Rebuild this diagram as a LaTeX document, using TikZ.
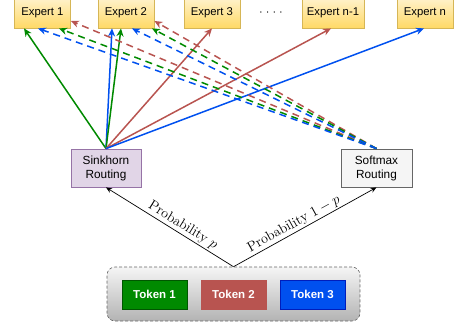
\documentclass[tikz,border=0pt]{standalone}
\usepackage{fontspec}
\newfontfamily\sfh{Liberation Sans}
\usetikzlibrary{arrows.meta,calc}

\definecolor{cgreen}{HTML}{008A00}
\definecolor{cgreenline}{HTML}{005700}
\definecolor{cred}{HTML}{B85450}
\definecolor{cblue}{HTML}{0050EF}
\definecolor{cblueline}{HTML}{001DBC}
\definecolor{expline}{HTML}{D6B656}
\definecolor{exptop}{HTML}{FFF2CC}
\definecolor{expbot}{HTML}{FFD966}
\definecolor{sinkfill}{HTML}{E1D5E7}
\definecolor{sinkline}{HTML}{9673A6}
\definecolor{softfill}{HTML}{F5F5F5}
\definecolor{greyline}{HTML}{666666}
\definecolor{boxbot}{HTML}{B3B3B3}

\tikzset{
  expert/.style={draw=expline, line width=0.8pt, top color=exptop, bottom color=expbot,
    minimum width=56pt, minimum height=30pt, inner sep=0pt,
    font=\sfh\fontsize{11.3}{13}\selectfont},
  router/.style={line width=0.8pt, minimum width=70pt, minimum height=38pt, inner sep=0pt,
    align=center, font=\sfh\fontsize{11.8}{14}\selectfont},
  token/.style={line width=0.8pt, minimum width=65pt, minimum height=29pt, inner sep=0pt,
    text=white, font=\sfh\bfseries\fontsize{11.5}{14}\selectfont},
  pick/.style={line width=1.5pt, -{Stealth[length=8pt,width=7pt,inset=2.5pt]}},
  spread/.style={pick, dash pattern=on 7pt off 5pt},
  route/.style={line width=0.7pt, black, -{Stealth[length=6pt,width=5pt,inset=2pt]}},
  problabel/.style={font=\fontsize{14}{16}\selectfont, inner sep=1.5pt},
}

\begin{document}
\begin{tikzpicture}[x=1pt,y=-1pt]
\useasboundingbox (0,0) rectangle (456,325);

% experts
\node[expert] (e1) at (42.5,13) {Expert 1};
\node[expert] (e2) at (126,13) {Expert 2};
\node[expert] (e3) at (212,13) {Expert 3};
\node[font=\sfh\fontsize{11}{13}\selectfont] (dots) at (271,14) {· · · ·};
\node[expert, minimum width=62pt] (en1) at (333,13) {Expert n-1};
\node[expert] (en) at (425,13) {Expert n};

% routers
\node[router, draw=sinkline, fill=sinkfill] (sink) at (106,168) {Sinkhorn\\Routing};
\node[router, draw=greyline, fill=softfill, minimum width=71pt] (soft) at (376.5,168) {Softmax\\Routing};

% token group
\node[draw=greyline, dash pattern=on 3pt off 2pt, line width=0.6pt, rounded corners=8pt,
      top color=softfill, bottom color=boxbot, minimum width=253pt, minimum height=54pt]
      (group) at (233.5,294) {};
\node[token, draw=cgreenline, fill=cgreen] (t1) at (154.5,294.5) {Token 1};
\node[token, draw=cred, fill=cred] (t2) at (233.5,294.5) {Token 2};
\node[token, draw=cblueline, fill=cblue] (t3) at (312.5,294.5) {Token 3};

% routing choice
\draw[route] (group.north) -- (sink.south)
  node[problabel, pos=0.43, sloped, above] {Probability $p$};
\draw[route] (group.north) -- (soft.south)
  node[problabel, pos=0.45, sloped, above] {Probability $1-p$};

% Sinkhorn assignments
\draw[pick, cgreen] (sink.north) -- ($(e1.south)+(-18.5,0)$);
\draw[pick, cblue]  (sink.north) -- ($(e2.south)+(-14,0)$);
\draw[pick, cgreen] (sink.north) -- ($(e2.south)+(-5,0)$);
\draw[pick, cred]   (sink.north) -- (e3.south);
\draw[pick, cred]   (sink.north) -- ($(en1.south)+(-2,0)$);
\draw[pick, cblue]  (sink.north) -- ($(en.south)+(-1,0)$);

% Softmax assignments
\draw[spread, cred]   (soft.north) -- ($(e1.east)+(0,8)$);
\draw[spread, cgreen] (soft.north) -- ($(e1.south)+(16.5,0)$);
\draw[spread, cblue]  (soft.north) -- ($(e1.south)+(-4.5,0)$);
\draw[spread, cred]   (soft.north) -- ($(e2.east)+(0,8)$);
\draw[spread, cgreen] (soft.north) -- ($(e2.south)+(26,0)$);
\draw[spread, cblue]  (soft.north) -- ($(e2.south)+(6,0)$);
\end{tikzpicture}
\end{document}
